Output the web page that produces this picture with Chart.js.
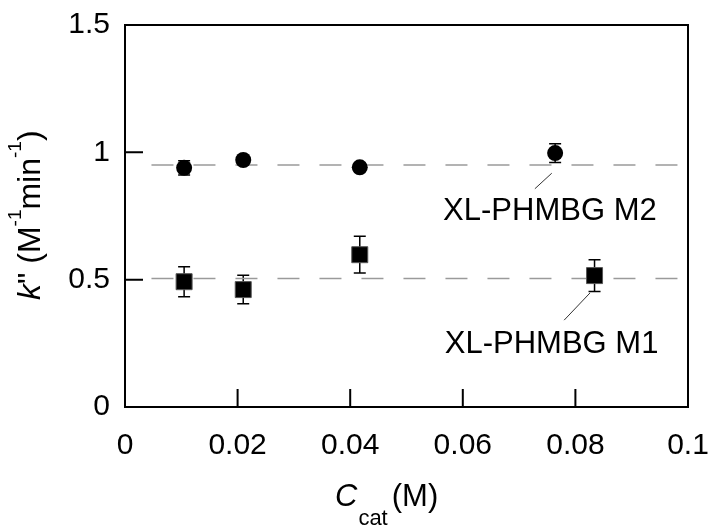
<!DOCTYPE html>
<html>
<head>
<meta charset="utf-8">
<script src="https://cdn.jsdelivr.net/npm/chart.js@4.4.1/dist/chart.umd.min.js"></script>
<style>
  html, body { margin: 0; padding: 0; background: #ffffff; }
  #wrap { width: 712px; height: 532px; }
</style>
</head>
<body>
<div id="wrap"><canvas id="c" width="712" height="532"></canvas></div>
<script>
// ---- data ----
const m2X   = [0.0105, 0.0210, 0.0417, 0.0764];
const m2Y   = [0.939, 0.970, 0.941, 0.997];
const m2Err = [0.028, 0.015, 0.015, 0.037];

const m1X   = [0.0105, 0.0210, 0.0417, 0.0834];
const m1Y   = [0.492, 0.461, 0.598, 0.516];
const m1Err = [0.059, 0.056, 0.072, 0.062];

// dashed mean lines
const refLineX  = [0.0047, 0.0982];
const m2Mean    = 0.950;
const m1Mean    = 0.505;

// leader lines to labels
const m2LeaderX = [0.0758, 0.0728];
const m2LeaderY = [0.918, 0.857];
const m1LeaderX = [0.0826, 0.0780];
const m1LeaderY = [0.448, 0.341];

// label anchors (left x, baseline y in data units)
const m2Label = 'XL-PHMBG M2';
const m2LabelPos = [0.0565, 0.736];
const m1Label = 'XL-PHMBG M1';
const m1LabelPos = [0.0568, 0.2115];

const xTickLabels = ['0', '0.02', '0.04', '0.06', '0.08', '0.1'];
const yTickLabels = ['0', '0.5', '1', '1.5'];

const FONT = "'Liberation Sans', Arial, Helvetica, sans-serif";

const toPts = (xs, ys) => xs.map((x, i) => ({ x: x, y: ys[i] }));

const deco = {
  id: 'deco',
  beforeDatasetsDraw(chart) {
    const ctx = chart.ctx, xs = chart.scales.x, ys = chart.scales.y;
    ctx.save();
    ctx.strokeStyle = '#000';
    ctx.lineWidth = 1.5;
    const draw = (X, Y, E) => {
      X.forEach((x, i) => {
        const px = xs.getPixelForValue(x);
        const t = ys.getPixelForValue(Y[i] + E[i]);
        const b = ys.getPixelForValue(Y[i] - E[i]);
        ctx.beginPath();
        ctx.moveTo(px, t); ctx.lineTo(px, b);
        ctx.moveTo(px - 6, t); ctx.lineTo(px + 6, t);
        ctx.moveTo(px - 6, b); ctx.lineTo(px + 6, b);
        ctx.stroke();
      });
    };
    draw(m2X, m2Y, m2Err);
    draw(m1X, m1Y, m1Err);
    ctx.restore();
  },
  afterDraw(chart) {
    const ctx = chart.ctx, a = chart.chartArea, xs = chart.scales.x, ys = chart.scales.y;
    ctx.save();
    // box
    ctx.strokeStyle = '#000';
    ctx.lineWidth = 2;
    ctx.strokeRect(a.left, a.top, a.right - a.left, a.bottom - a.top);
    // inner ticks
    ctx.beginPath();
    xs.ticks.forEach(t => {
      const px = xs.getPixelForValue(t.value);
      ctx.moveTo(px, a.bottom); ctx.lineTo(px, a.bottom - 18);
    });
    ys.ticks.forEach(t => {
      const py = ys.getPixelForValue(t.value);
      ctx.moveTo(a.left, py); ctx.lineTo(a.left + 18, py);
    });
    ctx.stroke();

    // annotation labels
    ctx.fillStyle = '#000';
    ctx.textBaseline = 'alphabetic';
    ctx.textAlign = 'left';
    ctx.font = '31px ' + FONT;
    ctx.fillText(m2Label, xs.getPixelForValue(m2LabelPos[0]), ys.getPixelForValue(m2LabelPos[1]));
    ctx.fillText(m1Label, xs.getPixelForValue(m1LabelPos[0]), ys.getPixelForValue(m1LabelPos[1]));

    // x title: C_cat (M)
    let x = 335;
    ctx.font = 'italic 31px ' + FONT;
    ctx.fillText('C', x, 506);
    x += ctx.measureText('C').width + 1;
    ctx.font = '22px ' + FONT;
    ctx.fillText('cat', x, 525);
    x += ctx.measureText('cat').width + 4;
    ctx.font = '31px ' + FONT;
    ctx.fillText('(M)', x, 506);

    // y title: k" (M^-1 min^-1)
    ctx.translate(40, 300);
    ctx.rotate(-Math.PI / 2);
    let p = 0;
    const part = (txt, font, dy) => {
      ctx.font = font;
      ctx.fillText(txt, p, dy);
      p += ctx.measureText(txt).width;
    };
    part('k', 'italic 32px ' + FONT, 0);
    part('" (M', '32px ' + FONT, 0);
    part('-1', '19px ' + FONT, -19);
    part('min', '32px ' + FONT, 0);
    part('-1', '19px ' + FONT, -19);
    part(')', '32px ' + FONT, 0);
    ctx.restore();
  }
};

const noPad = s => { s.paddingTop = 0; s.paddingBottom = 0; s.paddingLeft = 0; s.paddingRight = 0; };

new Chart(document.getElementById('c'), {
  type: 'scatter',
  data: {
    datasets: [
      { label: 'M2', data: toPts(m2X, m2Y), pointStyle: 'circle', pointRadius: 8,
        backgroundColor: '#000', borderColor: '#000', borderWidth: 0, showLine: false, order: 0 },
      { label: 'M1', data: toPts(m1X, m1Y), pointStyle: 'rect', pointRadius: 11.3,
        backgroundColor: '#000', borderColor: '#555', borderWidth: 1, showLine: false, order: 0 },
      { label: 'M2 mean', data: toPts(refLineX, [m2Mean, m2Mean]), showLine: true, pointRadius: 0,
        borderColor: '#9a9a9a', borderWidth: 1.5, borderDash: [22, 20], order: 3 },
      { label: 'M1 mean', data: toPts(refLineX, [m1Mean, m1Mean]), showLine: true, pointRadius: 0,
        borderColor: '#9a9a9a', borderWidth: 1.5, borderDash: [22, 20], order: 3 },
      { label: 'M2 leader', data: toPts(m2LeaderX, m2LeaderY), showLine: true, pointRadius: 0,
        borderColor: '#333', borderWidth: 1, order: 2 },
      { label: 'M1 leader', data: toPts(m1LeaderX, m1LeaderY), showLine: true, pointRadius: 0,
        borderColor: '#333', borderWidth: 1, order: 2 }
    ]
  },
  options: {
    responsive: false,
    animation: false,
    layout: { padding: { left: 0, right: 24, top: 25, bottom: 0 } },
    plugins: { legend: { display: false }, tooltip: { enabled: false } },
    scales: {
      x: {
        type: 'linear', min: 0, max: 0.1,
        grid: { display: false, drawTicks: false },
        border: { display: false },
        ticks: {
          stepSize: 0.02, padding: 21, color: '#000', maxRotation: 0,
          font: { family: FONT, size: 30 },
          callback: (v, i) => xTickLabels[i]
        },
        afterFit: s => { s.height = 125; noPad(s); }
      },
      y: {
        type: 'linear', min: 0, max: 1.5,
        grid: { display: false, drawTicks: false },
        border: { display: false },
        ticks: {
          stepSize: 0.5, padding: 15, color: '#000',
          font: { family: FONT, size: 30 },
          callback: (v, i) => yTickLabels[i]
        },
        afterFit: s => { s.width = 125; noPad(s); }
      }
    }
  },
  plugins: [deco]
});
</script>
</body>
</html>
